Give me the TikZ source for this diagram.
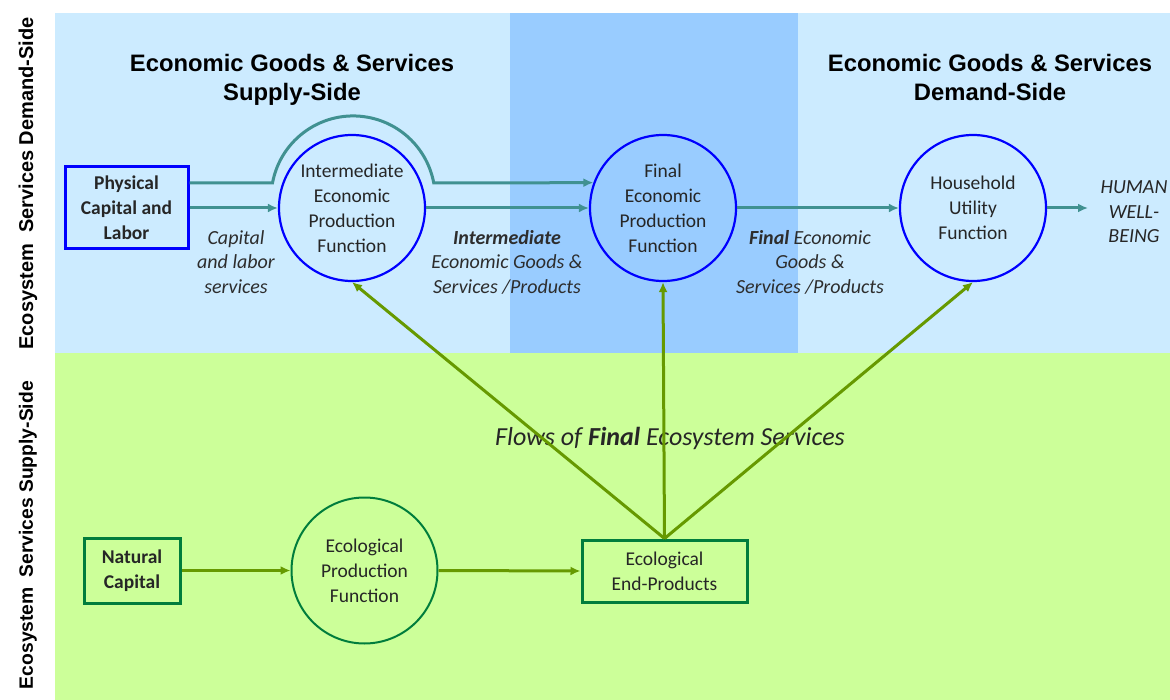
\documentclass[tikz,border=0pt]{standalone}
\usepackage{fontspec}
\setmainfont{Carlito}
\newfontfamily\arialf{Liberation Sans}
\usetikzlibrary{arrows.meta}
\definecolor{lblue}{RGB}{204,235,255}
\definecolor{mblue}{RGB}{153,204,255}
\definecolor{lgreen}{RGB}{204,255,153}
\definecolor{tealc}{RGB}{64,145,145}
\definecolor{olivec}{RGB}{102,153,0}
\definecolor{dgreen}{RGB}{0,125,60}
\definecolor{txt}{RGB}{38,38,38}
\definecolor{ltxt}{RGB}{45,45,45}
\begin{document}
\begin{tikzpicture}[x=1pt,y=-1pt,
  ecocirc/.style={circle,draw=blue,line width=2.2pt,minimum size=146pt,inner sep=0pt,align=center,text=txt,font=\fontsize{19.5}{25}\selectfont},
  grcirc/.style={circle,draw=dgreen,line width=2pt,minimum size=146pt,inner sep=0pt,align=center,text=txt,font=\fontsize{19.5}{25}\selectfont},
  bluebox/.style={draw=blue,line width=3pt,align=center,text=txt,font=\fontsize{19.5}{25}\selectfont\bfseries,inner sep=0pt},
  greenbox/.style={draw=dgreen,line width=3pt,align=center,text=txt,font=\fontsize{19.5}{25}\selectfont,inner sep=0pt},
  header/.style={align=center,font=\arialf\bfseries\fontsize{23.8}{29}\selectfont},
  sidelabel/.style={rotate=90,font=\arialf\bfseries\fontsize{20}{24}\selectfont,inner sep=0pt},
  lbl/.style={align=center,text=ltxt,font=\itshape\fontsize{20}{24.5}\selectfont},
  tflow/.style={draw=tealc,line width=3pt,-{Latex[length=10pt,width=9pt]}},
  oflow/.style={draw=olivec,line width=3pt,-{Latex[length=10pt,width=9pt]}}
]
\useasboundingbox (0,0) rectangle (1170,700);
% backgrounds
\fill[lblue] (55,13) rectangle (1170,353);
\fill[mblue] (510,13) rectangle (798,353);
\fill[lgreen] (55,353) rectangle (1170,700);
% side labels
\node[sidelabel,anchor=east] (sl1) at (28,17) {Ecosystem\hspace{0.55em}Services Demand-Side};
\node[sidelabel,anchor=east,font=\arialf\bfseries\fontsize{19.3}{24}\selectfont] (sl2) at (28,381) {Ecosystem\hspace{0.5em}Services Supply-Side};
% headers
\node[header] (h1) at (292,80) {Economic Goods \& Services\\Supply-Side};
\node[header] (h2) at (990,80) {Economic Goods \& Services\\Demand-Side\vphantom{y}};
% nodes
\node[bluebox,minimum width=123pt,minimum height=82pt] (pcl) at (126.5,208) {Physical\\Capital and\\Labor};
\node[ecocirc] (int) at (352,208) {Intermediate\\Economic\\Production\\Function};
\node[ecocirc] (fin) at (663,208) {Final\\Economic\\Production\\Function};
\node[ecocirc] (hh) at (973,208) {Household\\Utility\\Function};
\node[lbl,text=txt] (hw) at (1134,212) {HUMAN\\WELL-\\BEING};
\coordinate (hwin) at (1088,208);
\node[greenbox,minimum width=96pt,minimum height=65pt,font=\fontsize{19.5}{25}\selectfont\bfseries] (nc) at (132,570.5) {Natural\\Capital};
\node[grcirc] (epf) at (364.5,570.5) {Ecological\\Production\\Function};
\node[greenbox,minimum width=165pt,minimum height=62pt] (eep) at (664.5,571) {Ecological\\End-Products};
% labels
\node[lbl] (l1) at (236,262) {Capital\\and labor\\services};
\node[lbl] (l2) at (507,262) {\textbf{Intermediate}\\Economic Goods \&\\Services /Products};
\node[lbl] (l3) at (810,262) {\textbf{Final} Economic\\Goods \&\\Services /Products};
\node[lbl,text=txt,font=\itshape\fontsize{26}{30}\selectfont] (l4) at (670,438) {Flows of \textbf{Final} Ecosystem Services};
% teal flows
\draw[tflow] ([yshift=25pt]pcl.east) -- ++(83,0) arc[start angle=190.5,end angle=349.5,radius=82] -- (fin.160);
\draw[tflow] (pcl.east) -- (int.west);
\draw[tflow] (int.east) -- (fin.west);
\draw[tflow] (fin.east) -- (hh.west);
\draw[tflow] (hh.east) -- (hwin);
% olive flows
\draw[oflow] (nc.east) -- (epf.west);
\draw[oflow] (epf.east) -- (eep.west);
\draw[oflow] (eep.north) -- (int.south);
\draw[oflow] (eep.north) -- (fin.south);
\draw[oflow] (eep.north) -- (hh.south);
\end{tikzpicture}
\end{document}
